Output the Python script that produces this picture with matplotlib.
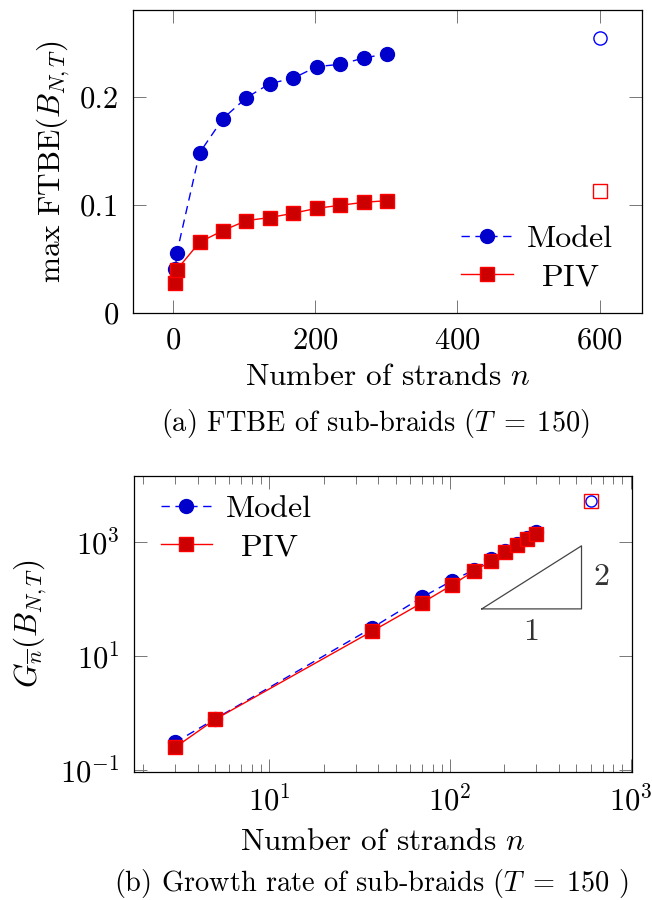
import numpy as np
import matplotlib
matplotlib.use("Agg")
import matplotlib.pyplot as plt
from matplotlib.ticker import FixedLocator, NullLocator, LogLocator

plt.rcParams["font.family"] = "serif"
plt.rcParams["font.serif"] = ["cmr10"]
plt.rcParams["mathtext.fontset"] = "cm"
plt.rcParams["axes.formatter.use_mathtext"] = True
plt.rcParams["axes.unicode_minus"] = False

# number of strands
n_sub = [3, 5, 37, 70, 103, 136, 169, 202, 235, 268, 301]
n_full = [600]

# (a) max FTBE
ftbe_model = [0.041, 0.0556, 0.148, 0.1797, 0.199, 0.212, 0.217, 0.2277, 0.2298, 0.2356, 0.2396]
ftbe_piv = [0.0276, 0.040, 0.0654, 0.0762, 0.0854, 0.0882, 0.0922, 0.0968, 0.0995, 0.1023, 0.1038]
ftbe_model_full = [0.2538]
ftbe_piv_full = [0.1127]

# (b) growth rate
g_model = [0.31, 0.80, 31.4, 108, 212, 327, 511, 695, 933, 1160, 1496]
g_piv = [0.253, 0.785, 27.4, 86.3, 178, 314, 464, 668, 886, 1144, 1400]
g_model_full = [5160]
g_piv_full = [5160]

# slope triangle (slope 2 in log-log)
tri_x = [150, 535]
tri_y0 = 67.6

BLUE, BLUE_F = "#0000ff", "#0000cc"
RED, RED_F = "#ff0000", "#cc0000"
TICK = 22
LAB = 22.5
LEG = 23
CAP = 20.4

fig = plt.figure(figsize=(6.52, 9.0), dpi=100)
ax1 = fig.add_axes([133 / 652, 1 - 313 / 900, (642 - 133) / 652, (313 - 10) / 900])
ax2 = fig.add_axes([133.5 / 652, 1 - 772 / 900, (632 - 133.5) / 652, (772 - 476) / 900])


def style(ax):
    for s in ax.spines.values():
        s.set_linewidth(0.9)
    ax.tick_params(which="both", direction="in", top=True, right=True,
                   labelsize=TICK, color="#777777", width=0.7, pad=10)
    ax.tick_params(which="major", length=9.5)
    ax.tick_params(which="minor", length=5.5)


# ---- (a)
ax1.plot(n_sub, ftbe_model, color=BLUE, lw=1.0, ls=(0, (6, 4)), marker="o", ms=10,
         mfc=BLUE_F, mec=BLUE_F, label="Model")
ax1.plot(n_sub, ftbe_piv, color=RED, lw=1.0, marker="s", ms=10,
         mfc=RED_F, mec=RED, label=r"$\enspace$PIV")
ax1.plot(n_full, ftbe_model_full, ls="none", marker="o", ms=9.5, mfc="white", mec=BLUE, mew=1.0)
ax1.plot(n_full, ftbe_piv_full, ls="none", marker="s", ms=9.5, mfc="white", mec=RED, mew=1.0)
ax1.set_xlim(-56.7, 659.7)
ax1.set_ylim(0, 0.28)
ax1.set_xticks([0, 200, 400, 600])
ax1.set_yticks([0, 0.1, 0.2])
ax1.set_yticklabels(["0", "0.1", "0.2"])
style(ax1)
ax1.set_xlabel(r"Number of strands $n$", fontsize=LAB, labelpad=6)
ax1.set_ylabel(r"$\max\ \mathrm{FTBE}(B_{N,T})$", fontsize=LAB, labelpad=6)
ax1.legend(loc="lower right", frameon=False, fontsize=LEG, handlelength=1.6,
           handletextpad=0.45, labelspacing=0.3, borderaxespad=0,
           bbox_to_anchor=(0.968, 0.03))

# ---- (b)
ax2.set_xscale("log")
ax2.set_yscale("log")
ax2.plot(n_sub, g_model, color=BLUE, lw=1.0, ls=(0, (6, 4)), marker="o", ms=10,
         mfc=BLUE_F, mec=BLUE_F, label="Model")
ax2.plot(n_sub, g_piv, color=RED, lw=1.0, marker="s", ms=10,
         mfc=RED_F, mec=RED, label=r"$\enspace$PIV")
ax2.plot(n_full, g_piv_full, ls="none", marker="s", ms=10, mfc="white", mec=RED, mew=1.0)
ax2.plot(n_full, g_model_full, ls="none", marker="o", ms=8, mfc="white", mec=BLUE, mew=1.0)
tx = np.array(tri_x, dtype=float)
ty1 = tri_y0 * (tx[1] / tx[0]) ** 2
ax2.plot([tx[0], tx[1], tx[1], tx[0]], [tri_y0, tri_y0, ty1, tri_y0], color="#444444", lw=0.9)
ax2.text(np.sqrt(tx[0] * tx[1]), tri_y0 / 1.5, "1", fontsize=LEG, color="#333333",
         ha="center", va="top")
ax2.text(tx[1] * 1.17, np.sqrt(tri_y0 * ty1), "2", fontsize=LEG, color="#333333",
         ha="left", va="center")
ax2.set_xlim(10 ** 0.247, 10 ** 3.008)
ax2.set_ylim(10 ** -1.027, 10 ** 4.158)
ax2.xaxis.set_major_locator(FixedLocator([10, 100, 1000]))
ax2.xaxis.set_minor_locator(LogLocator(base=10, subs=np.arange(2, 10), numticks=20))
ax2.yaxis.set_major_locator(FixedLocator([0.1, 10, 1000]))
ax2.yaxis.set_minor_locator(NullLocator())
style(ax2)
ax2.set_xlabel(r"Number of strands $n$", fontsize=LAB, labelpad=8)
ax2.set_ylabel(r"$G_{\overline{n}}(B_{N,T})$", fontsize=LAB, labelpad=8)
ax2.legend(loc="upper left", frameon=False, fontsize=LEG, handlelength=1.6,
           handletextpad=0.45, labelspacing=0.3, borderaxespad=0,
           bbox_to_anchor=(0.029, 0.98))

fig.text(375 / 652, 1 - 424 / 900, r"(a) FTBE of sub-braids ($T\;=\;150$)",
         fontsize=CAP, ha="center", va="center")
fig.text(371 / 652, 1 - 883 / 900, r"(b) Growth rate of sub-braids ($T\;=\;150$ )",
         fontsize=CAP, ha="center", va="center")

fig.savefig("out.png", dpi=100)
